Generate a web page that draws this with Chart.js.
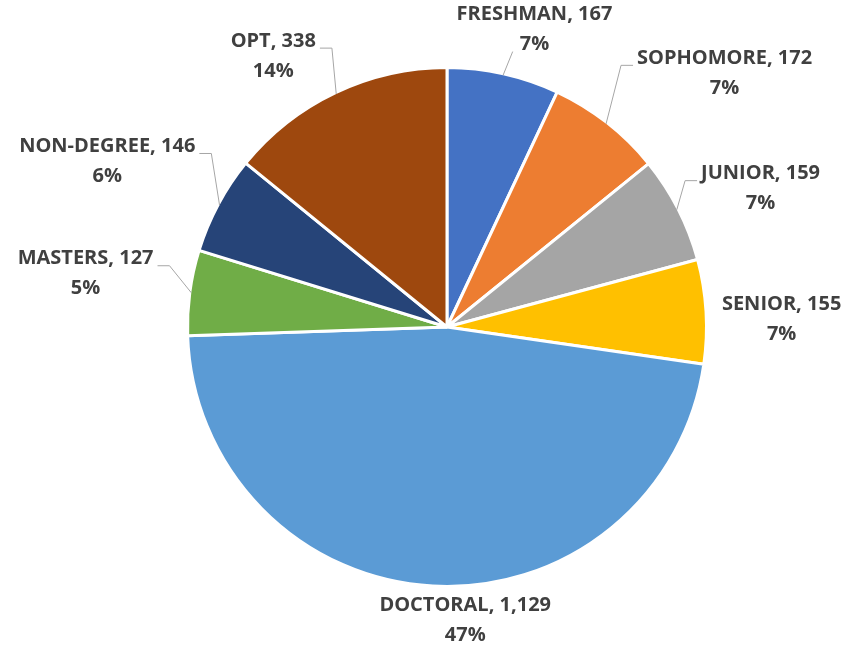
<!DOCTYPE html>
<html lang="en">
<head>
    <meta charset="UTF-8">
    <title>Students by level</title>
    <style>
        body { margin: 0; background: #fff; }
        canvas { display: block; }
    </style>
</head>
<body>
    <canvas id="myChart" width="846" height="646"></canvas>

    <script src="https://cdn.jsdelivr.net/npm/chart.js"></script>

    <script>
        // data
        let levels = ['FRESHMAN', 'SOPHOMORE', 'JUNIOR', 'SENIOR', 'DOCTORAL', 'MASTERS', 'NON-DEGREE', 'OPT'];
        let students = [167, 172, 159, 155, 1129, 127, 146, 338];
        let colors = ['#4472C4', '#ED7D31', '#A5A5A5', '#FFC000', '#5B9BD5', '#70AD47', '#264478', '#9E480E'];

        // label layout (pixel nudges away from the default spot beside each slice)
        let labelNudge = [[11, -9], [55, -21], [17, -4], [2, 10], [38, -2], [-23, -14], [-21, -26], [-38, -4]];

        const labelFont = "bold 20px 'Open Sans'";
        const lineGap = 30;

        // whole percents that add up to 100, like Excel's pie labels
        function percents(values) {
            const total = values.reduce((a, b) => a + b, 0);
            const raw = values.map(v => v / total * 100);
            const out = raw.map(Math.floor);
            let left = 100 - out.reduce((a, b) => a + b, 0);
            const order = raw.map((r, i) => i).sort((a, b) => (raw[b] - out[b]) - (raw[a] - out[a]));
            for (let k = 0; k < left; k++) out[order[k]] += 1;
            return out;
        }

        // draws "NAME, value / pct%" labels with leader lines
        const outsideLabels = {
            id: 'outsideLabels',
            afterDatasetsDraw(chart) {
                const ctx = chart.ctx;
                const meta = chart.getDatasetMeta(0);
                const data = chart.data.datasets[0].data;
                const pct = percents(data);

                ctx.save();
                ctx.font = labelFont;
                ctx.textAlign = 'center';
                ctx.textBaseline = 'middle';

                meta.data.forEach((arc, i) => {
                    const p = arc.getProps(['x', 'y', 'startAngle', 'endAngle', 'outerRadius'], true);
                    const mid = (p.startAngle + p.endAngle) / 2;
                    const cos = Math.cos(mid), sin = Math.sin(mid);

                    const line1 = chart.data.labels[i] + ', ' + data[i].toLocaleString('en-US');
                    const line2 = pct[i] + '%';
                    const w1 = ctx.measureText(line1).width;
                    const w2 = ctx.measureText(line2).width;
                    const w = Math.max(w1, w2);
                    const h = 44;

                    // anchor just outside the rim, then box touching it
                    const R = p.outerRadius + 14;
                    const ax = p.x + cos * R, ay = p.y + sin * R;
                    const cx = ax + cos * w / 2 + labelNudge[i][0];
                    const cy = ay + sin * h / 2 + labelNudge[i][1];
                    const y1 = cy - lineGap / 2, y2 = cy + lineGap / 2;

                    // leader line from rim point
                    const px = p.x + cos * (p.outerRadius - 1.5), py = p.y + sin * (p.outerRadius - 1.5);
                    const left = cx - w / 2, right = cx + w / 2, top = cy - h / 2, bottom = cy + h / 2;
                    const dx = Math.max(left - px, 0, px - right);
                    const dy = Math.max(top - py, 0, py - bottom);
                    if (Math.hypot(dx, dy) > 20) {
                        ctx.strokeStyle = '#A6A6A6';
                        ctx.lineWidth = 1;
                        ctx.beginPath();
                        ctx.moveTo(px, py);
                        if (px < left || px > right) {
                            const side = px < left ? -1 : 1;
                            const ex = (side < 0 ? cx - w1 / 2 - 4 : cx + w1 / 2 + 4);
                            const ey = y1 + 7;
                            ctx.lineTo(ex + side * 12, ey);
                            ctx.lineTo(ex, ey);
                        } else {
                            ctx.lineTo(cx - w2 / 2 - 7, y2 + 7);
                        }
                        ctx.stroke();
                    }

                    ctx.fillStyle = '#404040';
                    ctx.fillText(line1, cx, y1);
                    ctx.fillText(line2, cx, y2);
                });
                ctx.restore();
            }
        };

        const ctx = document.getElementById('myChart');

        let chart = new Chart(ctx, {
            type: 'pie',
            data: {
                labels: levels,
                datasets: [{
                    data: students,
                    backgroundColor: colors,
                    borderColor: '#ffffff',
                    borderWidth: 3,
                    hoverOffset: 0
                }]
            },
            options: {
                responsive: false,
                animation: false,
                events: [],
                layout: {
                    padding: { left: 186, right: 138, top: 66, bottom: 58 }
                },
                plugins: {
                    legend: { display: false },
                    tooltip: { enabled: false }
                }
            },
            plugins: [outsideLabels]
        });
    </script>
</body>
</html>
